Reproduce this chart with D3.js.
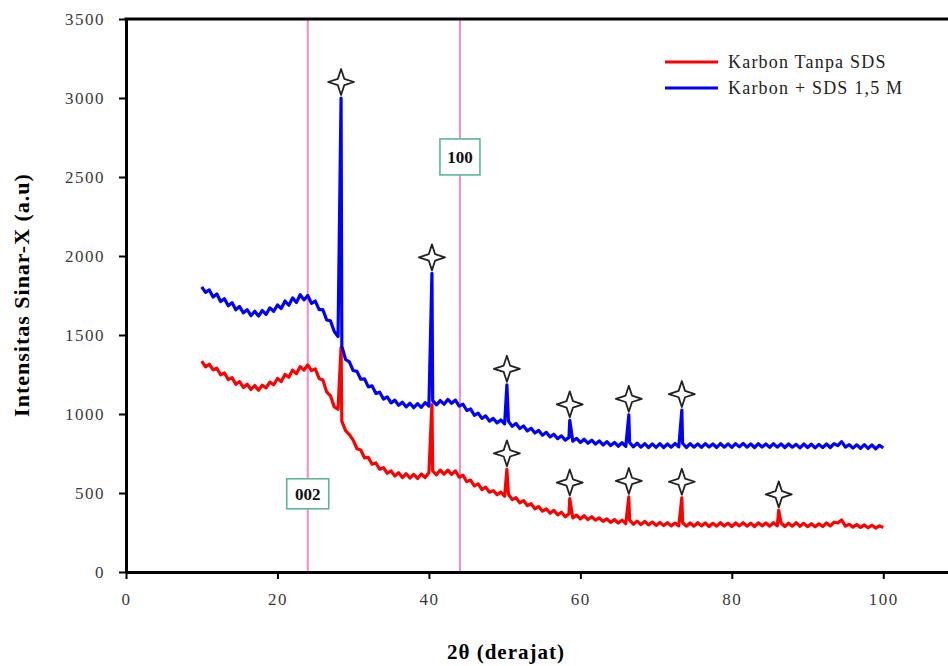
<!DOCTYPE html>
<html>
<head>
<meta charset="utf-8">
<script src="https://cdn.jsdelivr.net/npm/d3@7"></script>
<style>
  body { margin: 0; background: #fff; }
  svg { display: block; }
  svg text { font-family: "Liberation Serif", "Times New Roman", serif; }
</style>
</head>
<body>
<div id="chart"></div>
<script>
// 2-theta grid, 10..100 step 0.5 (181 points)
const twoTheta = d3.range(0, 181).map(i => 10 + i * 0.5);

// Karbon + SDS 1,5 M (blue), background
const blueBase = [
  1805,1770,1785,1740,1760,1712,1730,1685,1705,1660,
  1680,1640,1660,1622,1650,1620,1655,1630,1672,1650,
  1690,1668,1715,1688,1735,1705,1755,1722,1750,1700,
  1715,1660,1660,1595,1590,1522,1490,1430,1345,1330,
  1275,1270,1220,1222,1172,1178,1130,1138,1095,1108,
  1070,1088,1055,1075,1045,1068,1040,1065,1042,1072,
  1050,1085,1058,1085,1062,1092,1068,1088,1050,1062,
  1022,1032,992,1006,972,988,955,972,944,962,
  938,955,922,940,908,924,893,910,880,896,
  866,884,855,872,844,862,835,852,828,846,
  820,840,815,834,810,830,804,825,800,820,
  796,818,795,820,792,815,790,812,788,811,
  789,812,788,810,790,813,792,815,788,812,
  790,811,789,812,791,810,788,813,790,811,
  789,812,792,814,790,810,788,812,791,810,
  789,812,790,811,788,810,790,808,786,810,
  788,809,786,808,787,810,788,812,800,825,
  790,806,784,805,783,806,782,804,780,802,
  785
];

// Karbon Tanpa SDS (red)
const redBase = [
  1335,1298,1315,1280,1290,1248,1260,1218,1230,1188,
  1205,1168,1188,1155,1180,1150,1182,1165,1202,1185,
  1225,1205,1250,1232,1278,1255,1300,1278,1310,1275,
  1285,1225,1215,1140,1115,1045,1030,955,895,870,
  835,780,772,722,725,682,690,650,660,625,
  640,608,628,598,622,595,618,592,620,598,
  628,640,615,645,620,645,618,640,600,612,
  572,582,545,558,522,537,505,515,490,506,
  480,492,458,470,438,452,420,432,400,414,
  385,400,372,390,362,378,350,368,342,360,
  336,356,332,350,328,342,320,336,314,332,
  310,328,306,330,302,322,300,320,298,316,
  295,314,294,312,292,310,292,312,290,310,
  290,312,292,310,288,308,290,312,291,309,
  288,310,292,312,290,308,288,311,292,310,
  290,312,292,310,288,309,290,312,289,308,
  287,306,286,305,288,310,292,315,310,330,
  290,302,284,300,282,298,280,296,278,292,
  282
];

// diffraction peaks
const bluePeakTheta = [28.4, 40.4, 50.3, 58.6, 66.4, 73.4];
const bluePeakHeight = [3000, 1890, 1185, 960, 995, 1025];
const redPeakTheta = [28.4, 40.4, 50.3, 58.6, 66.4, 73.4, 86.2];
const redPeakHeight = [1420, 1060, 650, 465, 475, 470, 390];

// peaks marked with a star
const blueStarTheta = [28.4, 40.4, 50.3, 58.6, 66.4, 73.4];
const redStarTheta = [50.3, 58.6, 66.4, 73.4, 86.2];

// reference planes
const planeLabels = ['002', '100'];
const planeTheta = [24.0, 44.1];
const planeLabelY = [495, 2627];

const xTicks = [0, 20, 40, 60, 80, 100];
const yTicks = [0, 500, 1000, 1500, 2000, 2500, 3000, 3500];

const seriesNames = ['Karbon Tanpa SDS', 'Karbon + SDS 1,5 M'];
const seriesColors = ['#ff0000', '#0000ff'];

const width = 948;
const height = 666;
const margin = { top: 19, left: 126, bottom: 94 };
const serif = '"Liberation Serif", "Times New Roman", serif';

const x = d3.scaleLinear().domain([0, 110]).range([margin.left, 959]);
const y = d3.scaleLinear().domain([0, 3500]).range([height - margin.bottom, margin.top]);

const svg = d3.select('#chart').append('svg')
    .attr('width', width)
    .attr('height', height)
    .attr('font-family', serif);

function buildSeries(base, peakX, peakY) {
    const pts = twoTheta.map((t, i) => ({ x: t, y: base[i] }));
    peakX.forEach((t, i) => pts.push({ x: t, y: peakY[i] }));
    return pts.sort((a, b) => a.x - b.x);
}

const redSeries = buildSeries(redBase, redPeakTheta, redPeakHeight);
const blueSeries = buildSeries(blueBase, bluePeakTheta, bluePeakHeight);

// reference lines
svg.selectAll('.plane')
    .data(planeTheta)
    .enter().append('line')
    .attr('class', 'plane')
    .attr('x1', d => x(d)).attr('x2', d => x(d))
    .attr('y1', y(3500)).attr('y2', y(0))
    .attr('stroke', '#f48ad6')
    .attr('stroke-width', 2);

const line = d3.line().x(d => x(d.x)).y(d => y(d.y));

[redSeries, blueSeries].forEach((s, i) => {
    svg.append('path')
        .datum(s)
        .attr('d', line)
        .attr('fill', 'none')
        .attr('stroke', seriesColors[i])
        .attr('stroke-width', 3.2)
        .attr('stroke-linejoin', 'round');
});

// stars
const starPath = 'M0,-13 L3.2,-3.2 L13,0 L3.2,3.2 L0,13 L-3.2,3.2 L-13,0 L-3.2,-3.2 Z';
const stars = blueStarTheta.map(t => ({ t, h: bluePeakHeight[bluePeakTheta.indexOf(t)] }))
    .concat(redStarTheta.map(t => ({ t, h: redPeakHeight[redPeakTheta.indexOf(t)] })));

svg.selectAll('.star')
    .data(stars)
    .enter().append('path')
    .attr('class', 'star')
    .attr('d', starPath)
    .attr('transform', d => `translate(${x(d.t)},${y(d.h) - 16})`)
    .attr('fill', '#fff')
    .attr('stroke', '#222')
    .attr('stroke-width', 1.8)
    .attr('stroke-linejoin', 'round');

// plane label boxes
const boxW = [42, 40];
const boxH = [30, 36];
planeLabels.forEach((lab, i) => {
    const cx = x(planeTheta[i]);
    const cy = y(planeLabelY[i]);
    svg.append('rect')
        .attr('x', cx - boxW[i] / 2).attr('y', cy - boxH[i] / 2)
        .attr('width', boxW[i]).attr('height', boxH[i])
        .attr('fill', '#fff')
        .attr('stroke', '#5cb893')
        .attr('stroke-width', 1.6);
    svg.append('text')
        .attr('x', cx).attr('y', cy)
        .attr('dy', '0.35em')
        .attr('text-anchor', 'middle')
        .style('font-size', '17px')
        .style('font-weight', 'bold')
        .attr('fill', '#111')
        .text(lab);
});

// axes
const xAxis = svg.append('g')
    .attr('transform', `translate(0,${y(0)})`)
    .call(d3.axisBottom(x).tickValues(xTicks).tickFormat(d3.format('d'))
        .tickSizeInner(7).tickSizeOuter(0).tickPadding(14));
const yAxis = svg.append('g')
    .attr('transform', `translate(${x(0)},0)`)
    .call(d3.axisLeft(y).tickValues(yTicks).tickFormat(d3.format('d'))
        .tickSizeInner(7).tickSizeOuter(0).tickPadding(14));

[xAxis, yAxis].forEach(a => {
    a.attr('font-family', serif).attr('font-size', 17);
    a.select('.domain').attr('stroke', '#000').attr('stroke-width', 3);
    a.selectAll('.tick line').attr('stroke', '#000').attr('stroke-width', 2);
    a.selectAll('.tick text')
        .attr('fill', '#3a3a3a')
        .style('letter-spacing', '1.5px');
});

// top frame
svg.append('line')
    .attr('x1', x(0) - 1.5).attr('x2', width)
    .attr('y1', y(3500)).attr('y2', y(3500))
    .attr('stroke', '#000').attr('stroke-width', 3);

// axis titles
svg.append('text')
    .attr('x', 506).attr('y', 659)
    .attr('text-anchor', 'middle')
    .style('font-size', '21px')
    .style('font-weight', 'bold')
    .style('letter-spacing', '1px')
    .text('2θ (derajat)');

svg.append('text')
    .attr('transform', 'translate(29,295) rotate(-90)')
    .attr('text-anchor', 'middle')
    .style('font-size', '22px')
    .style('font-weight', 'bold')
    .style('letter-spacing', '1px')
    .text('Intensitas Sinar-X (a.u)');

// legend
const legend = svg.append('g').attr('transform', 'translate(665,62)');
seriesNames.forEach((name, i) => {
    const g = legend.append('g').attr('transform', `translate(0,${i * 26})`);
    g.append('line')
        .attr('x1', 0).attr('x2', 53)
        .attr('stroke', seriesColors[i])
        .attr('stroke-width', 3);
    g.append('text')
        .attr('x', 63).attr('dy', '0.35em')
        .style('font-size', '18px')
        .style('letter-spacing', '1.2px')
        .attr('fill', '#222')
        .text(name);
});
</script>
</body>
</html>
